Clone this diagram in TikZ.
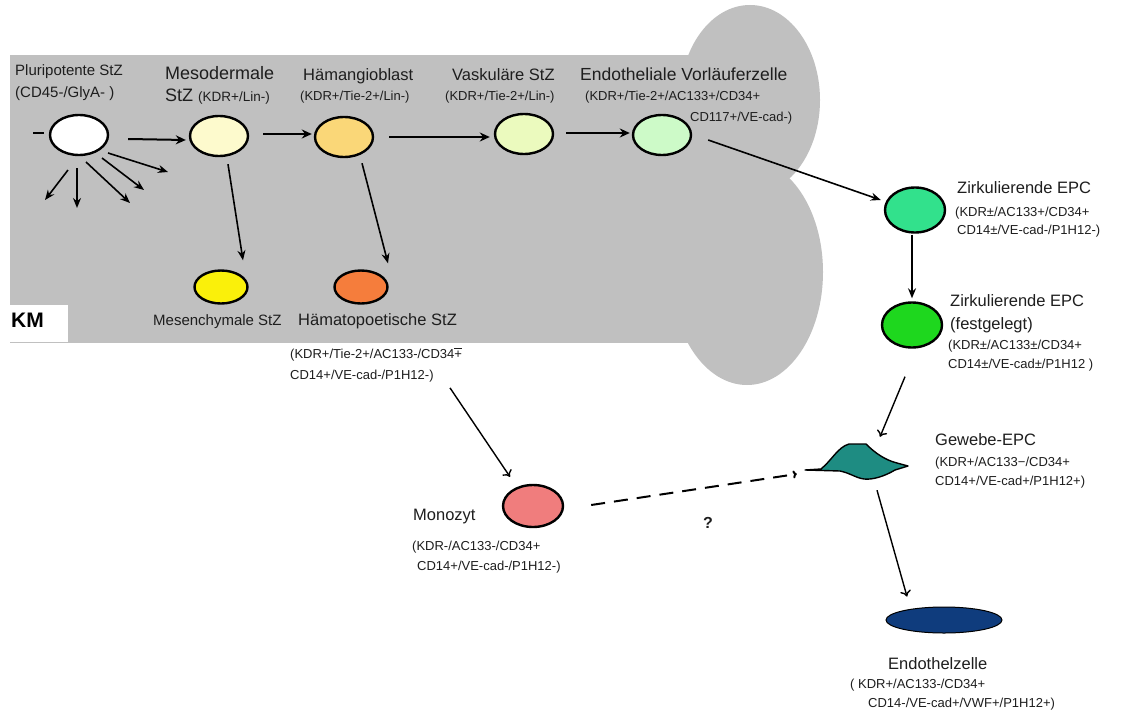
\documentclass[tikz,border=0pt]{standalone}
\usepackage{fontspec}
\setmainfont{Liberation Sans}
\usetikzlibrary{shapes.geometric,arrows.meta}
\definecolor{bggray}{RGB}{192,192,192}
\definecolor{cmeso}{RGB}{253,250,205}
\definecolor{cham}{RGB}{250,215,120}
\definecolor{cvask}{RGB}{235,250,190}
\definecolor{cendo}{RGB}{205,250,200}
\definecolor{cmesch}{RGB}{250,240,10}
\definecolor{chamato}{RGB}{245,125,60}
\definecolor{czirk}{RGB}{50,225,140}
\definecolor{cfest}{RGB}{30,215,30}
\definecolor{cgew}{RGB}{30,140,130}
\definecolor{cendz}{RGB}{15,60,125}
\definecolor{cmono}{RGB}{240,125,125}
\definecolor{txt}{RGB}{30,30,30}
\begin{document}
\begin{tikzpicture}[x=1pt,y=-1pt,
  cell/.style={ellipse, draw=black, line width=2.4pt, inner sep=0pt, minimum width=58pt, minimum height=40pt},
  arr/.style={-{Stealth[length=10pt,width=9pt]}, line width=2pt, black},
  thinarr/.style={-{Stealth[length=10pt,width=8pt]}, line width=1.6pt, black},
  openarr/.style={-{To[length=6pt,width=11pt]}, line width=1.4pt, black},
  big/.style={font=\fontsize{16.5}{19}\selectfont, text=txt, anchor=base west, inner sep=0pt},
  small/.style={font=\fontsize{13}{16}\selectfont, text=txt, anchor=base west, inner sep=0pt},
  mid/.style={font=\fontsize{15}{17}\selectfont, text=txt, anchor=base west, inner sep=0pt}]
\useasboundingbox (0,0) rectangle (1132,717);
\fill[white] (0,0) rectangle (1132,717);
% bone marrow region
\fill[bggray] (10,55) rectangle (760,343);
\fill[bggray] (750,100) ellipse [x radius=70pt, y radius=95pt];
\fill[bggray] (747,272) ellipse [x radius=76pt, y radius=113pt];
\fill[white] (8,305) rectangle (68,342);
\node[font=\bfseries\fontsize{21}{24}\selectfont, anchor=base west, inner sep=0pt] (km) at (11,327) {KM};

% cells
\node[cell, fill=white] (pluri) at (79,135) {};
\node[cell, fill=cmeso] (meso) at (219,136) {};
\node[cell, fill=cham] (ham) at (344,137) {};
\node[cell, fill=cvask] (vask) at (524,134) {};
\node[cell, fill=cendo] (endo) at (662,135) {};
\node[cell, fill=cmesch, minimum width=53pt, minimum height=33pt] (mesch) at (221,287) {};
\node[cell, fill=chamato, minimum width=53pt, minimum height=33pt] (hamato) at (361,287) {};
\node[cell, fill=czirk, minimum width=60pt, minimum height=45pt] (zirk) at (915,210) {};
\node[cell, fill=cfest, minimum width=60pt, minimum height=45pt] (fest) at (912,325) {};
\node[cell, fill=cmono, minimum width=60pt, minimum height=42pt] (mono) at (533,506) {};
\node[ellipse, draw=black, line width=1pt, fill=cendz, minimum width=116pt, minimum height=26pt, inner sep=0pt] (endz) at (944,620) {};
\node[minimum width=104pt, minimum height=32pt, inner sep=0pt] (gew) at (856,462) {};
\draw[fill=cgew, line width=1.4pt, line join=round]
  (805,470) -- (821,469) .. controls (832,460) and (838,447) .. (849,444)
  -- (866,444) .. controls (875,453) and (885,460) .. (897,463) -- (908,466)
  -- (895,470) .. controls (885,476) and (873,480) .. (864,479)
  .. controls (856,478) and (850,473) .. (840,471) -- cycle;

% texts top row
\node[mid] (t1) at (15,75) {Pluripotente StZ};
\node[mid] (t2) at (15,97) {(CD45-/GlyA- )};
\node[big, font=\fontsize{18}{20}\selectfont] (t3) at (165,80) {Mesodermale};
\node[big, font=\fontsize{18}{20}\selectfont] (t4) at (165,101) {StZ \fontsize{13.5}{16}\selectfont(KDR+/Lin-)};
\node[big] (t5) at (303,81) {Hämangioblast};
\node[small] (t6) at (300,100) {(KDR+/Tie-2+/Lin-)};
\node[big] (t7) at (452,81) {Vaskuläre StZ};
\node[small] (t8) at (445,100) {(KDR+/Tie-2+/Lin-)};
\node[big, font=\fontsize{17.5}{20}\selectfont] (t9) at (580,81) {Endotheliale Vorläuferzelle};
\node[small] (t10) at (585,100) {(KDR+/Tie-2+/AC133+/CD34+};
\node[small] (t11) at (690,121) {CD117+/VE-cad-)};
% second row
\node[big, font=\fontsize{15}{18}\selectfont] (t12) at (153,325) {Mesenchymale StZ};
\node[big] (t13) at (298,325) {Hämatopoetische StZ};
\node[small] (t14) at (290,358) {(KDR+/Tie-2+/AC133-/CD34\makebox[0pt][l]{\raisebox{1.35ex}{\rule{0.55em}{0.5pt}}}+};
\node[small] (t15) at (290,379) {CD14+/VE-cad-/P1H12-)};
% monozyt
\node[big] (t16) at (413,520) {Monozyt};
\node[small] (t17) at (412,550) {(KDR-/AC133-/CD34+};
\node[small] (t18) at (417,570) {CD14+/VE-cad-/P1H12-)};
\node[font=\bfseries\fontsize{16}{19}\selectfont, text=txt, anchor=base west, inner sep=0pt] (q) at (703,528) {?};
% right column
\node[big] (t19) at (957,193) {Zirkulierende EPC};
\node[small] (t20) at (955,216) {(KDR±/AC133+/CD34+};
\node[small] (t21) at (957,234) {CD14±/VE-cad-/P1H12-)};
\node[big] (t22) at (950,306) {Zirkulierende EPC};
\node[big] (t23) at (950,329) {(festgelegt)};
\node[small] (t24) at (948,349) {(KDR±/AC133±/CD34+};
\node[small] (t25) at (948,368) {CD14±/VE-cad±/P1H12 )};
\node[big] (t26) at (935,445) {Gewebe-EPC};
\node[small] (t27) at (935,466) {(KDR+/AC133−/CD34+};
\node[small] (t28) at (935,485) {CD14+/VE-cad+/P1H12+)};
\node[big] (t29) at (888,669) {Endothelzelle};
\node[small] (t30) at (850,688) {( KDR+/AC133-/CD34+};
\node[small] (t31) at (868,707) {CD14-/VE-cad+/VWF+/P1H12+)};

% free ends of the radiating arrows
\coordinate (d0) at (33,133);
\coordinate (d1) at (45,200);
\coordinate (d2) at (77,208);
\coordinate (d3) at (130,203);
\coordinate (d4) at (144,190);
\coordinate (d5) at (168,172);
\draw[line width=2pt] (d0) -- ([shift={(-5,-2)}]pluri.west);
\draw[thinarr] ([shift={(-11,35)}]pluri.center) -- (d1);
\draw[thinarr] ([shift={(-2,33)}]pluri.center) -- (d2);
\draw[thinarr] ([shift={(7,27)}]pluri.center) -- (d3);
\draw[thinarr] ([shift={(23,23)}]pluri.center) -- (d4);
\draw[thinarr] ([shift={(29,18)}]pluri.center) -- (d5);

% main connectors
\draw[arr] ([shift={(19,4)}]pluri.east) -- ([shift={(-3,4)}]meso.west);
\draw[arr] ([shift={(14,-2)}]meso.east) -- ([shift={(-2,-3)}]ham.west);
\draw[arr] ([shift={(15,0)}]ham.east) -- ([shift={(-4,3)}]vask.west);
\draw[arr] ([shift={(12,-1)}]vask.east) -- ([shift={(-2,-2)}]endo.west);
\draw[thinarr] ([shift={(16,5)}]endo.east) -- ([shift={(-3,-10)}]zirk.west);
\draw[thinarr] ([shift={(-3,1)}]zirk.south) -- ([shift={(0,-3)}]fest.north);
\draw[openarr] ([shift={(-7,28)}]fest.south) -- ([shift={(24,-9)}]gew.north);
\draw[openarr] ([shift={(21,12)}]gew.south) -- ([shift={(-37,-10)}]endz.north);
\draw[thinarr] ([shift={(9,7)}]meso.south) -- ([shift={(22,-9)}]mesch.north);
\draw[thinarr] ([shift={(18,5)}]ham.south) -- ([shift={(27,-6)}]hamato.north);
\draw[openarr] ([shift={(160,6)}]t15.south west) -- ([shift={(-23,-7)}]mono.north);
\draw[-{To[length=4pt,width=8pt]}, line width=2pt, dash pattern=on 14pt off 9pt] ([shift={(27,-1)}]mono.east) -- ([shift={(-7,12)}]gew.west);
\end{tikzpicture}
\end{document}
